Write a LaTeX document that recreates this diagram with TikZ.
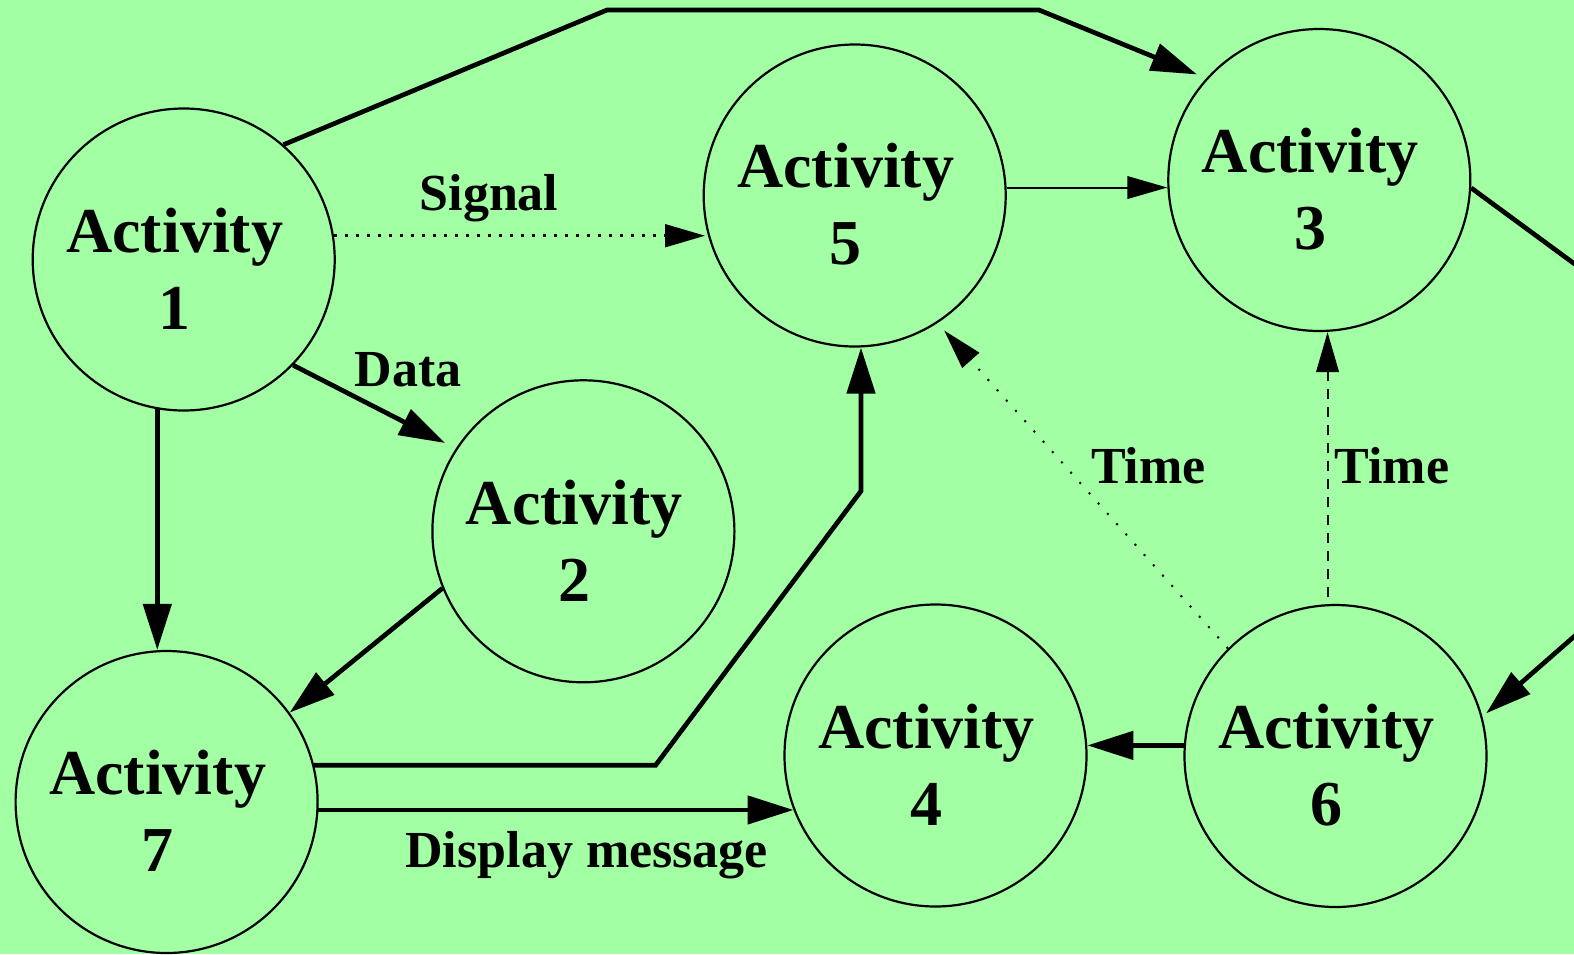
\documentclass[tikz,border=0pt]{standalone}
\usepackage{fontspec}
\setmainfont{Liberation Serif}
\usetikzlibrary{arrows.meta}
\definecolor{bggreen}{RGB}{163,255,163}

\begin{document}
\begin{tikzpicture}[x=0.5pt,y=-0.5pt,
  act/.style={circle,draw,line width=1.1pt,minimum size=151pt,inner sep=0pt,
    label={[actlabel]center:Activity\\#1}},
  actlabel/.style={font=\fontsize{32}{38.5}\selectfont\bfseries,align=center,
    xshift=-4.5pt,yshift=-4.5pt,inner sep=0pt},
  lbl/.style={font=\fontsize{26}{31}\selectfont\bfseries,anchor=base,inner sep=0pt},
  thick flow/.style={line width=2.35pt,-{Triangle[length=23pt,width=14pt]}},
  thin flow/.style={line width=1pt,-{Triangle[length=20pt,width=11.3pt]}},
  dotted flow/.style={thin flow,line width=1.5pt,dash pattern=on 1.5pt off 4pt},
  sparse dotted flow/.style={thin flow,line width=1pt,dash pattern=on 1pt off 5.9pt},
  dashed flow/.style={thin flow,dash pattern=on 5pt off 4pt},
]
\useasboundingbox (0,0) rectangle (1574,954);
\fill[bggreen] (0,0) rectangle (1574,954);

% activities
\node[act=1] (a1) at (183.7,259.5) {};
\node[act=2] (a2) at (583.4,531.3) {};
\node[act=3] (a3) at (1319.3,180) {};
\node[act=4] (a4) at (935.5,755.5) {};
\node[act=5] (a5) at (854.7,195.5) {};
\node[act=6] (a6) at (1335.5,756) {};
\node[act=7] (a7) at (166.6,802) {};

% route bends
\coordinate (t1) at (607,10);
\coordinate (t2) at (1039,10);
\coordinate (u1) at (655.6,762.7);
\coordinate (u2) at (861,491);
\coordinate (r1) at (1806,434);

% 1 -> 3 over the top
\draw[thick flow,shorten >=5pt] (a1.49.6) -- (t1) -- (t2) -- (a3.138.9);

% 1 -> 5 signal
\draw[dotted flow,shorten >=1pt] (a1.9.5) -- (a5.194.8 |- a1.9.5);
\node[lbl] (signal) at (489,210.7) {Signal};

% 1 -> 2 data
\draw[thick flow,shorten >=6pt] (a1.-44.5) -- (a2.147.4);
\node[lbl] (data) at (408,386.7) {Data};

% 1 -> 7
\draw[thick flow] (a1.260.3) -- (a1.260.3 |- a7.north);

% 2 -> 7
\draw[thick flow] (a2.202.3) -- (a7.36.3);

% 7 -> 5
\draw[thick flow] (a7.14.5) -- (a7.14.5 -| u1) -- (u2) -- (u2 |- a5.south);

% 7 -> 4 display message
\draw[thick flow] (a7.-3.3) -- (a7.-3.3 -| a4.201.3);
\node[lbl] (display) at (586.7,867.3) {Display message};

% 5 -> 3
\draw[thin flow] (a5.3.3) -- (a5.3.3 -| a3.182.5);

% 3 -> 6 around the right side
\begin{scope}
  \clip (0,0) rectangle (1574,954);
  \draw[thick flow,shorten >=2.5pt] (a3.-3.1) -- (r1) -- (a6.15.4);
\end{scope}

% 6 -> 4
\draw[thick flow] (a6.176.2) -- (a6.176.2 -| a4.3.6);

% 6 -> 5 time
\draw[sparse dotted flow,shorten >=5pt] (a6.135.4) -- (a5.-57);
\node[lbl] (time1) at (1148.4,483.5) {Time};

% 6 -> 3 time
\draw[dashed flow,shorten <=3.5pt] (a6.93.7) -- (a6.93.7 |- a3.south);
\node[lbl] (time2) at (1392,483.5) {Time};
\end{tikzpicture}
\end{document}
